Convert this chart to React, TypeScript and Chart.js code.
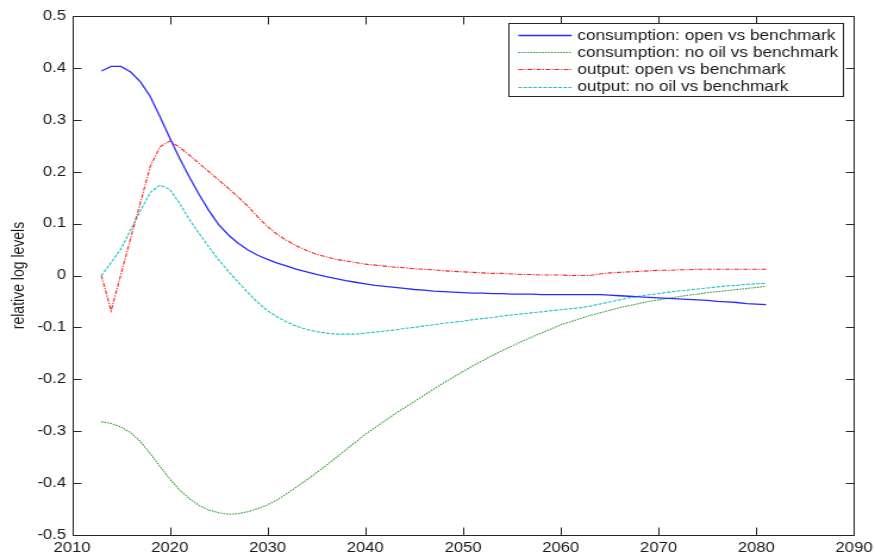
import React, { useEffect, useRef } from "react";
import { Chart, registerables } from "chart.js";

Chart.register(...registerables);

// ---- data ----
const years: number[] = [];
for (let y = 2013; y <= 2081; y++) years.push(y);

const consumptionOpen = [
  0.394, 0.403, 0.403, 0.392, 0.373, 0.345, 0.306, 0.265, 0.226, 0.19,
  0.156, 0.125, 0.098, 0.078, 0.062, 0.049, 0.039, 0.031, 0.024, 0.018,
  0.012, 0.007, 0.002, -0.002, -0.006, -0.01, -0.013, -0.016, -0.019, -0.021,
  -0.023, -0.025, -0.027, -0.028, -0.03, -0.031, -0.032, -0.033, -0.034, -0.034,
  -0.035, -0.035, -0.036, -0.036, -0.036, -0.037, -0.037, -0.037, -0.037, -0.037,
  -0.037, -0.037, -0.038, -0.039, -0.04, -0.041, -0.042, -0.043, -0.044, -0.045,
  -0.046, -0.047, -0.048, -0.05, -0.051, -0.052, -0.054, -0.055, -0.056,
];

const consumptionNoOil = [
  -0.282, -0.285, -0.292, -0.303, -0.32, -0.343, -0.368, -0.392, -0.413, -0.43,
  -0.443, -0.452, -0.457, -0.46, -0.459, -0.455, -0.449, -0.442, -0.432, -0.42,
  -0.407, -0.394, -0.38, -0.366, -0.351, -0.336, -0.321, -0.306, -0.293, -0.28,
  -0.267, -0.255, -0.243, -0.231, -0.219, -0.207, -0.196, -0.185, -0.174, -0.164,
  -0.154, -0.145, -0.136, -0.127, -0.119, -0.111, -0.103, -0.095, -0.089, -0.083,
  -0.077, -0.072, -0.067, -0.062, -0.058, -0.054, -0.05, -0.047, -0.044, -0.041,
  -0.038, -0.036, -0.033, -0.031, -0.029, -0.027, -0.025, -0.023, -0.021,
];

const outputOpen = [
  0.0, -0.068, 0.002, 0.072, 0.141, 0.21, 0.248, 0.259, 0.247, 0.232,
  0.216, 0.2, 0.184, 0.168, 0.151, 0.133, 0.113, 0.094, 0.079, 0.067,
  0.057, 0.048, 0.041, 0.036, 0.031, 0.028, 0.025, 0.022, 0.02, 0.018,
  0.016, 0.015, 0.013, 0.012, 0.011, 0.009, 0.008, 0.007, 0.006, 0.005,
  0.004, 0.004, 0.003, 0.002, 0.002, 0.001, 0.001, 0.001, 0.0, 0.0,
  0.0, 0.003, 0.005, 0.006, 0.007, 0.008, 0.009, 0.01, 0.01, 0.011,
  0.011, 0.012, 0.012, 0.012, 0.012, 0.012, 0.012, 0.012, 0.012,
];

const outputNoOil = [
  0.0, 0.025, 0.051, 0.088, 0.125, 0.16, 0.174, 0.166, 0.139, 0.108,
  0.081, 0.055, 0.03, 0.008, -0.013, -0.033, -0.052, -0.068, -0.08, -0.09,
  -0.098, -0.104, -0.108, -0.111, -0.113, -0.113, -0.113, -0.111, -0.109, -0.107,
  -0.105, -0.102, -0.1, -0.097, -0.095, -0.092, -0.09, -0.088, -0.085, -0.083,
  -0.081, -0.078, -0.076, -0.074, -0.072, -0.07, -0.068, -0.066, -0.064, -0.062,
  -0.059, -0.055, -0.051, -0.047, -0.043, -0.04, -0.037, -0.035, -0.032, -0.03,
  -0.028, -0.026, -0.024, -0.022, -0.02, -0.019, -0.017, -0.016, -0.015,
];

const seriesLabels = [
  "consumption: open vs benchmark",
  "consumption: no oil vs benchmark",
  "output: open vs benchmark",
  "output: no oil vs benchmark",
];

const xTickMin = 2010;
const xTickMax = 2090;
const xTickStep = 10;
const yTickMin = -0.5;
const yTickMax = 0.5;
const yTickStep = 0.1;
const yAxisTitle = "relative log levels";

// ---- layout (internal canvas is stretched horizontally to 875px) ----
const CSS_W = 875;
const CSS_H = 553;
const INT_W = 735;
const FONT = "'Liberation Sans', Arial, Helvetica, sans-serif";
const AXIS_COLOR = "#262626";

const boxTicksPlugin = {
  id: "boxTicks",
  afterDatasetsDraw(chart: any) {
    const { ctx, chartArea } = chart;
    const { left, right, top, bottom } = chartArea;
    const xs = chart.scales.x;
    const ys = chart.scales.y;
    ctx.save();
    ctx.strokeStyle = AXIS_COLOR;
    ctx.lineWidth = 1;
    ctx.beginPath();
    const L = Math.round(left) + 0.5;
    const R = Math.round(right) + 0.5;
    const T = Math.round(top) + 0.5;
    const B = Math.round(bottom) + 0.5;
    ctx.rect(L, T, R - L, B - T);
    const tlx = 7;
    const tly = 8;
    xs.ticks.forEach((t: any) => {
      const px = Math.round(xs.getPixelForValue(t.value)) + 0.5;
      ctx.moveTo(px, B);
      ctx.lineTo(px, B - tly);
      ctx.moveTo(px, T);
      ctx.lineTo(px, T + tly);
    });
    ys.ticks.forEach((t: any) => {
      const py = Math.round(ys.getPixelForValue(t.value)) + 0.5;
      ctx.moveTo(L, py);
      ctx.lineTo(L + tlx, py);
      ctx.moveTo(R, py);
      ctx.lineTo(R - tlx, py);
    });
    ctx.stroke();
    ctx.restore();
  },
};

const boxLegendPlugin = {
  id: "boxLegend",
  afterDraw(chart: any) {
    const { ctx, chartArea } = chart;
    const boxRight = chartArea.right - 9;
    const boxW = 281.4;
    const boxLeft = boxRight - boxW;
    const boxTop = chartArea.top + 7.3;
    const boxH = 73.4;
    ctx.save();
    ctx.fillStyle = "#ffffff";
    ctx.fillRect(boxLeft, boxTop, boxW, boxH);
    ctx.strokeStyle = AXIS_COLOR;
    ctx.lineWidth = 1;
    ctx.strokeRect(Math.round(boxLeft) + 0.5, Math.round(boxTop) + 0.5, Math.round(boxW), Math.round(boxH));
    ctx.font = `14.5px ${FONT}`;
    ctx.textBaseline = "middle";
    ctx.textAlign = "left";
    chart.data.datasets.forEach((ds: any, i: number) => {
      const y = boxTop + 11.7 + i * 17.2;
      ctx.save();
      ctx.strokeStyle = ds.borderColor;
      ctx.lineWidth = ds.borderWidth;
      ctx.setLineDash(ds.borderDash || []);
      ctx.beginPath();
      ctx.moveTo(boxLeft + 8.4, Math.round(y) + 0.5);
      ctx.lineTo(boxLeft + 53.2, Math.round(y) + 0.5);
      ctx.stroke();
      ctx.restore();
      ctx.fillStyle = "#1a1a1a";
      ctx.fillText(ds.label, boxLeft + 57.9, y + 0.5);
    });
    ctx.restore();
  },
};

const fmtY = (v: number) => String(Number(Number(v).toFixed(1)));

export default function App() {
  const ref = useRef<HTMLCanvasElement | null>(null);

  useEffect(() => {
    document.body.style.margin = "0";
    const canvas = ref.current;
    if (!canvas) return;
    const mk = (vals: number[]) => years.map((x, i) => ({ x, y: vals[i] }));
    const chart = new Chart(canvas, {
      type: "line",
      data: {
        datasets: [
          {
            label: seriesLabels[0],
            data: mk(consumptionOpen),
            borderColor: "#2a2aff",
            borderWidth: 1.3,
            borderDash: [],
          },
          {
            label: seriesLabels[1],
            data: mk(consumptionNoOil),
            borderColor: "#2e992e",
            borderWidth: 1.1,
            borderDash: [1.5, 1],
          },
          {
            label: seriesLabels[2],
            data: mk(outputOpen),
            borderColor: "#ff2020",
            borderWidth: 1.1,
            borderDash: [4, 1.2, 1.2, 1.2],
          },
          {
            label: seriesLabels[3],
            data: mk(outputNoOil),
            borderColor: "#16c4c4",
            borderWidth: 1.1,
            borderDash: [3, 1.2],
          },
        ] as any,
      },
      options: {
        responsive: false,
        devicePixelRatio: 1,
        animation: false,
        parsing: false as any,
        normalized: true,
        layout: { padding: { top: 16, right: INT_W - 717.4, bottom: 0, left: 0 } },
        elements: { point: { radius: 0 }, line: { tension: 0, fill: false } },
        plugins: { legend: { display: false }, tooltip: { enabled: false } },
        scales: {
          x: {
            type: "linear",
            min: xTickMin,
            max: xTickMax,
            grid: { display: false, drawTicks: false },
            border: { display: false },
            ticks: {
              stepSize: xTickStep,
              autoSkip: false,
              maxRotation: 0,
              padding: 5,
              color: "#1a1a1a",
              font: { family: FONT, size: 14 },
              callback: (v: any) => String(v),
            },
            afterFit: (s: any) => {
              s.height = 18;
              s.paddingLeft = 0;
              s.paddingRight = 0;
            },
          },
          y: {
            type: "linear",
            min: yTickMin,
            max: yTickMax,
            grid: { display: false, drawTicks: false },
            border: { display: false },
            ticks: {
              stepSize: yTickStep,
              autoSkip: false,
              padding: 5,
              color: "#1a1a1a",
              font: { family: FONT, size: 14 },
              callback: (v: any) => fmtY(v),
            },
            title: {
              display: true,
              text: yAxisTitle,
              color: "#1a1a1a",
              font: { family: FONT, size: 14 },
              padding: { top: 7.6, bottom: 0 },
            },
            afterFit: (s: any) => {
              s.width = 60.5;
              s.paddingTop = 0;
              s.paddingBottom = 0;
            },
          },
        },
      } as any,
      plugins: [boxTicksPlugin, boxLegendPlugin],
    });
    return () => chart.destroy();
  }, []);

  return (
    <div style={{ width: CSS_W, height: CSS_H, background: "#fff" }}>
      <canvas
        ref={ref}
        width={INT_W}
        height={CSS_H}
        style={{ width: `${CSS_W}px`, height: `${CSS_H}px`, display: "block" }}
      />
    </div>
  );
}
